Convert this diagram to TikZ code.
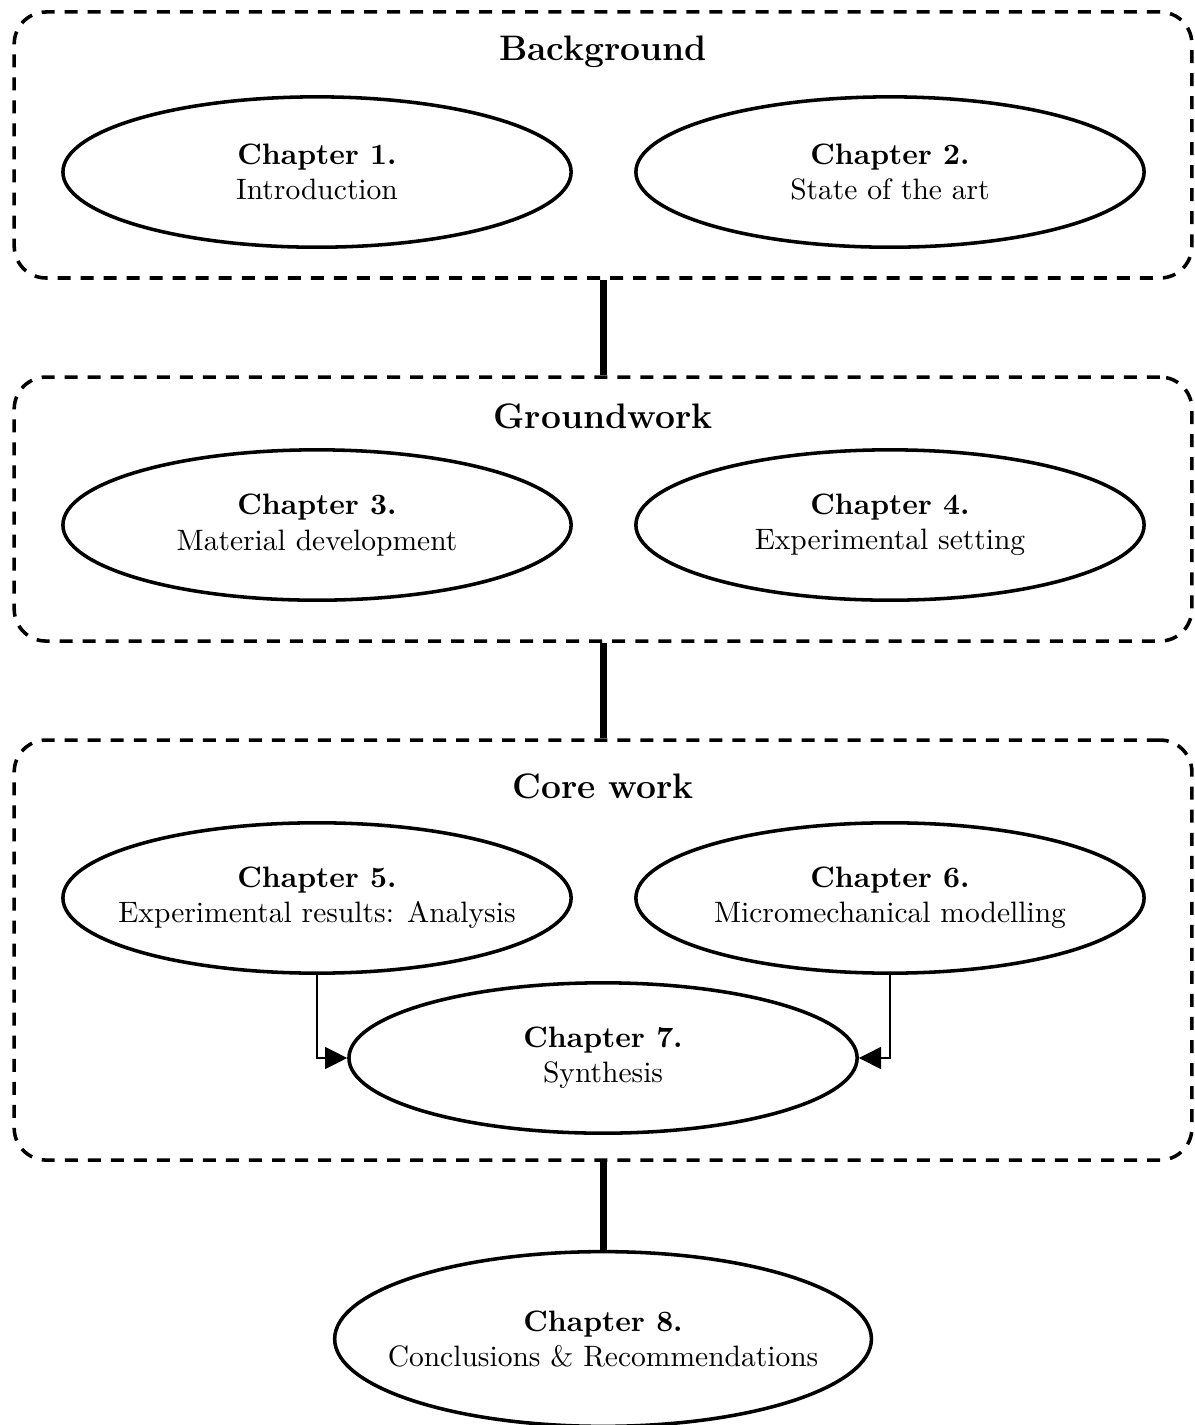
\documentclass[tikz,border=0pt]{standalone}
\usetikzlibrary{shapes.geometric,arrows.meta}

\begin{document}
\begin{tikzpicture}[
    grupo/.style={draw, very thick, dash pattern=on 4.4pt off 3.4pt, rounded corners=0.38cm, minimum width=14.02cm, inner sep=0pt},
    capitulo/.style={draw, very thick, ellipse, minimum width=6.05cm, minimum height=1.79cm, inner xsep=-1.2cm, inner ysep=0pt, align=center},
    titulo/.style={font=\large\bfseries},
    enlace/.style={line width=2.4pt},
    flecha/.style={thin, -{Triangle[length=7.5pt,width=7.5pt]}}
]
    % Marco de la figura
    \useasboundingbox (0,0) rectangle (14.214,-16.964);

    % Bloques punteados
    \node[grupo, minimum height=3.167cm] (bg) at (7.179,-1.726) {};
    \node[grupo, minimum height=3.143cm] (gw) at (7.179,-6.060) {};
    \node[grupo, minimum height=5.0cm] (cw) at (7.179,-11.310) {};

    % Titulos de los bloques
    \node[titulo] (tbg) at (7.179,-0.619) {Background};
    \node[titulo] (tgw) at (7.179,-4.952) {Groundwork};
    \node[titulo] (tcw) at (7.179,-9.357) {Core work};

    % Capitulos
    \node[capitulo] (c1) at (3.774,-2.048) {\textbf{Chapter 1.}\\Introduction};
    \node[capitulo] (c2) at (10.595,-2.048) {\textbf{Chapter 2.}\\State of the art};
    \node[capitulo] (c3) at (3.774,-6.25) {\textbf{Chapter 3.}\\Material development};
    \node[capitulo] (c4) at (10.595,-6.25) {\textbf{Chapter 4.}\\Experimental setting};
    \node[capitulo] (c5) at (3.774,-10.69) {\textbf{Chapter 5.}\\Experimental results: Analysis};
    \node[capitulo] (c6) at (10.595,-10.69) {\textbf{Chapter 6.}\\Micromechanical modelling};
    \node[capitulo] (c7) at (7.179,-12.595) {\textbf{Chapter 7.}\\Synthesis};
    \node[capitulo, minimum width=6.39cm, minimum height=2.08cm] (c8) at (7.179,-15.94) {\textbf{Chapter 8.}\\Conclusions \& Recommendations};

    % Uniones entre bloques
    \draw[enlace] (bg.south) -- (gw.north);
    \draw[enlace] (gw.south) -- (cw.north);
    \draw[enlace] (cw.south) -- (c8.north);

    % Flechas hacia la sintesis
    \draw[flecha] (c5.south) |- (c7.west);
    \draw[flecha] (c6.south) |- (c7.east);

\end{tikzpicture}
\end{document}
